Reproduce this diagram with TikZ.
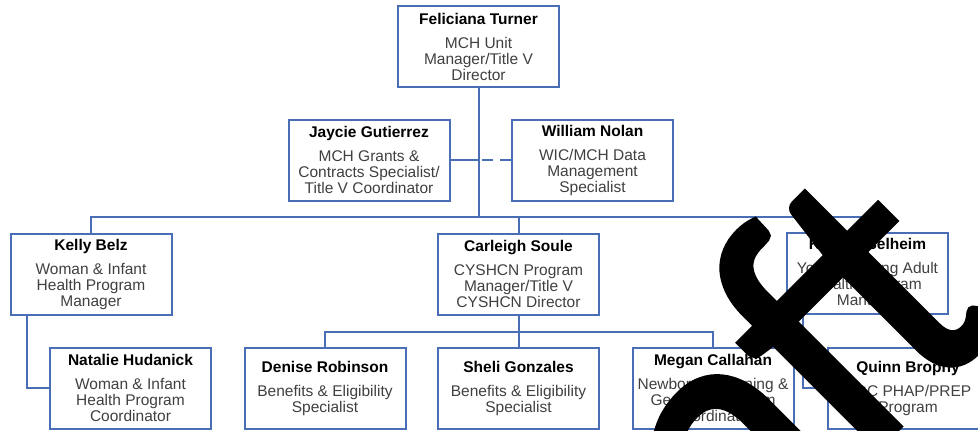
\documentclass[tikz,border=0pt]{standalone}
\usepackage{fontspec}
\setmainfont{Liberation Sans}
\newfontfamily\wmfont[FakeBold=2]{Carlito}
\definecolor{boxblue}{HTML}{4A6EB5}
\newcommand{\nm}[1]{{\color{black}\bfseries #1}\\[8pt]}
\begin{document}
\begin{tikzpicture}[x=1pt,y=-1pt,
  box/.style={draw=boxblue, line width=2pt, minimum width=161pt, minimum height=81pt,
    inner sep=0pt, align=center, font=\fontsize{15.5}{16}\selectfont, text=black!75},
  conn/.style={draw=boxblue, line width=2pt},
  dashconn/.style={draw=boxblue, line width=2pt, dash pattern=on 11pt off 7pt}]
\useasboundingbox (0,0) rectangle (978,431);
\fill[white] (0,0) rectangle (978,431);
% boxes
\node[box] (ft) at (478.5,46.5) {\nm{Feliciana Turner}MCH Unit\\Manager/Title V\\Director};
\node[box] (jg) at (369,160) {\nm{Jaycie Gutierrez}MCH Grants \&\\Contracts Specialist/\\Title V Coordinator};
\node[box] (wn) at (592.5,160) {\nm{William Nolan}WIC/MCH Data\\Management\\Specialist};
\node[box] (kb) at (91,274) {\nm{Kelly Belz}Woman \& Infant\\Health Program\\Manager};
\node[box] (cs) at (518.5,274) {\nm{Carleigh Soule}CYSHCN Program\\Manager/Title V\\CYSHCN Director};
\node[box] (ks) at (867.5,273) {\nm{Kristen Selheim}Youth \& Young Adult\\Health Program\\Manager};
\node[box] (nh) at (130.5,388) {\nm{Natalie Hudanick}Woman \& Infant\\Health Program\\Coordinator};
\node[box] (dr) at (325,388) {\nm{Denise Robinson}Benefits \& Eligibility\\Specialist};
\node[box] (sg) at (518.5,388) {\nm{Sheli Gonzales}Benefits \& Eligibility\\Specialist};
\node[box] (mc) at (713,388) {\nm{Megan Callahan}Newborn Screening \&\\Genetics Program\\Coordinator};
\node[box] (qb) at (908,388) {\nm{Quinn Brophy}CDC PHAP/PREP\\Program};
% connector points
\coordinate (bus) at (478.5,217);
\coordinate (tj) at (478.5,160);
\coordinate (bus2) at (518.5,332);
% connectors
\draw[conn] (ft.south) -- (bus);
\draw[conn] (jg.east) -- (tj);
\draw[dashconn] (wn.west) -- (tj);
\draw[conn] (kb.north) |- (bus) -| (ks.north);
\draw[conn] (bus) -| (cs.north);
\draw[conn] (cs.south) -- (sg.north);
\draw[conn] (dr.north) |- (bus2) -| (mc.north);
\draw[conn] ([xshift=-64pt]kb.south) |- (nh.west);
\draw[conn] ([xshift=-64.5pt]ks.south) |- (qb.west);
% watermark
\begin{scope}
\clip (0,0) rectangle (978,431);
\node[rotate=45, xscale=0.93, anchor=base west, inner sep=0pt, text=black,
  font=\wmfont\fontsize{365}{365}\selectfont] (wm) at (518,807) {Draft};
\end{scope}
\end{tikzpicture}
\end{document}
